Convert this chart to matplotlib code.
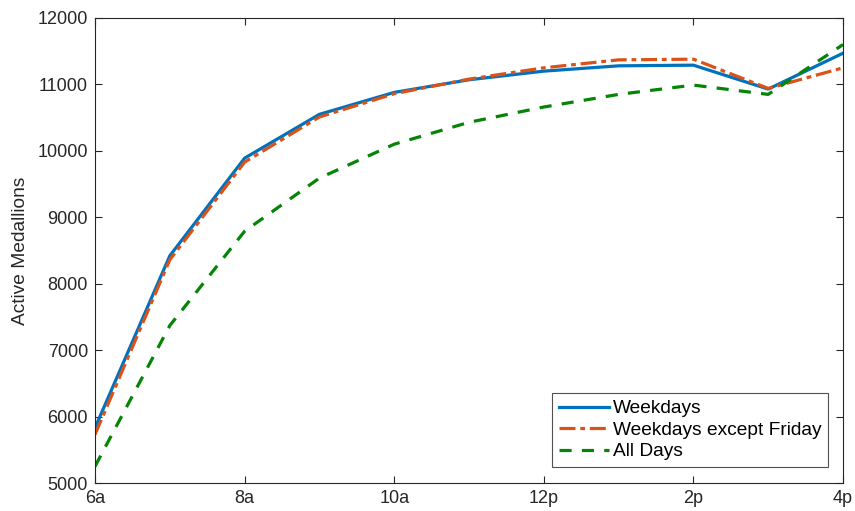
import matplotlib
matplotlib.use('Agg')
import matplotlib.pyplot as plt

hours = [6, 7, 8, 9, 10, 11, 12, 13, 14, 15, 16]
weekdays = [5830, 8420, 9890, 10550, 10880, 11070, 11200, 11280, 11290, 10930, 11470]
weekdays_no_fri = [5730, 8360, 9830, 10510, 10860, 11080, 11250, 11370, 11380, 10940, 11250]
all_days = [5250, 7370, 8790, 9590, 10100, 10430, 10660, 10850, 10990, 10850, 11600]

tick_hours = [6, 8, 10, 12, 14, 16]
tick_labels = ['6a', '8a', '10a', '12p', '2p', '4p']

plt.rcParams['font.family'] = ['Liberation Sans', 'DejaVu Sans']
dark = '#262626'

fig = plt.figure(figsize=(8.55, 5.11), dpi=100)
ax = fig.add_axes([95 / 855, 28 / 511, 748 / 855, 465 / 511])

ax.plot(hours, weekdays, color='#0072BD', lw=2.3, label='Weekdays')
ax.plot(hours, weekdays_no_fri, color='#D95319', lw=2.3, ls=(0, (5, 1.5, 1.5, 1.5)),
        label='Weekdays except Friday')
ax.plot(hours, all_days, color='#058405', lw=2.3, ls=(0, (3.8, 3.2)), label='All Days')

ax.set_xlim(6, 16)
ax.set_ylim(5000, 12000)
ax.set_xticks(tick_hours)
ax.set_xticklabels(tick_labels)
ax.set_yticks(range(5000, 12001, 1000))
ax.set_ylabel('Active Medallions', fontsize=13.8, color=dark, labelpad=6)

ax.tick_params(direction='in', top=True, right=True, length=5, width=0.8,
               labelsize=13, colors=dark, pad=5)
for s in ax.spines.values():
    s.set_color(dark)
    s.set_linewidth(0.8)

leg = ax.legend(loc='lower right', bbox_to_anchor=(0.98, 0.034), fontsize=13.8,
                frameon=True, fancybox=False, handlelength=2.6, handletextpad=0.2,
                borderpad=0.35, labelspacing=0.22, borderaxespad=0)
leg.get_frame().set_edgecolor(dark)
leg.get_frame().set_linewidth(0.8)

fig.savefig('out.png', dpi=100)
